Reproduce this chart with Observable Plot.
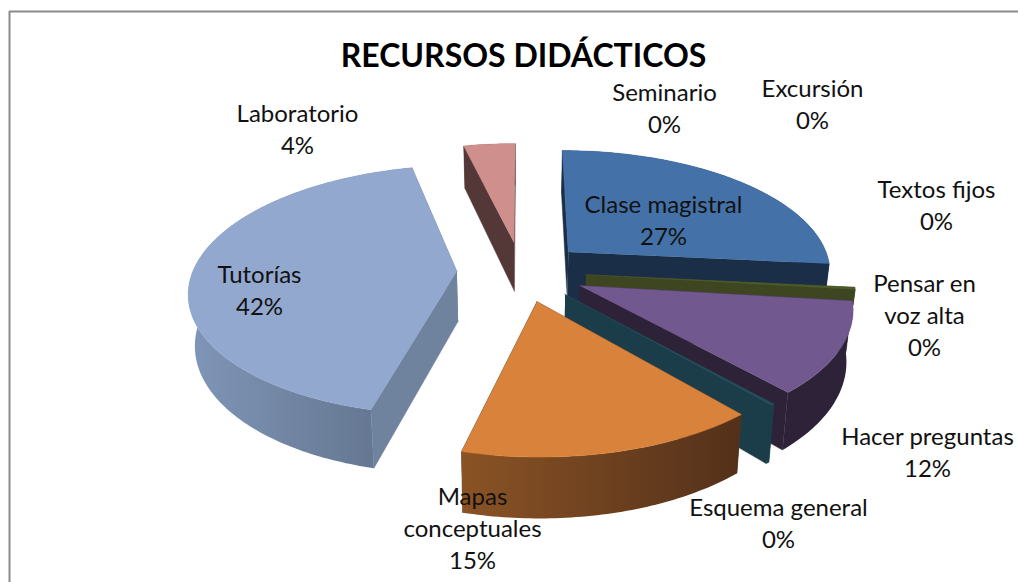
<!DOCTYPE html>
<html><head><meta charset="utf-8">
<style>html,body{margin:0;padding:0;background:#fff}svg{display:block}</style>
<script src="https://cdn.jsdelivr.net/npm/d3@7"></script>
<script src="https://cdn.jsdelivr.net/npm/@observablehq/plot@0.6"></script>
</head><body><div id="chart"></div>
<script>
const categories = ["Clase magistral","Seminario","Excursión","Textos fijos","Pensar en\nvoz alta","Hacer preguntas","Esquema general","Mapas\nconceptuales","Tutorías","Laboratorio"];
const values = [26.6,0,0,0,0.3,11.6,0.2,15.2,42.4,3.7];
const percentLabels = ["27%","0%","0%","0%","0%","12%","0%","15%","42%","4%"];
const topColors = ["#4472a8","#4472a8","#4472a8","#4472a8","#4d5a2b","#71588f","#24505c","#d9823b","#92a8cf","#cf8f8d"];
const radialColors = ["#1b2e47","#1b2e47","#1b2e47","#1b2e47","#3d4621","#2e2238","#1b3d49","#553216","#6f829e","#543838"];
const outerFrom = ["#1b2e47","#1b2e47","#1b2e47","#1b2e47","#3d4621","#2e2238","#1b3d49","#8a5325","#8096b8","#543838"];
const outerTo = ["#1b2e47","#1b2e47","#1b2e47","#1b2e47","#3d4621","#2e2238","#1b3d49","#53301a","#5f7089","#543838"];
const wallShare = [1,1,1,1,0.3,1,1,1,1,1];
// label centres, in picture pixels
const labelX = [663,664,812,936,924,927,778,472,259,297];
const labelY = [218,106,102,203,313,450,521,526,288,127];

const W = 1018, H = 582;
const cx = 521, cy = 271, B = 264, A = 122, p = 0.15, depth = 50, explode = 0.245, squeeze = 0.98;
function project(X, Y, bottom, share = 1) {
  const k = 1 + p * Y;
  let x = cx + B * X / k, y = cy - A * Y / k;
  if (bottom) { x = cx + (x - cx) * (1 - (1 - squeeze) * share); y += share * depth / k; }
  return {x, y};
}
const pie = d3.pie().sort(null).value(d => d)(values);
const slices = pie.map((s, i) => {
  const mid = (s.startAngle + s.endAngle) / 2;
  const ox = explode * Math.sin(mid), oy = explode * Math.cos(mid);
  const n = Math.max(1, Math.ceil((s.endAngle - s.startAngle) * 60));
  const rim = d3.range(n + 1).map(j => {
    const a = s.startAngle + (s.endAngle - s.startAngle) * j / n;
    return [ox + Math.sin(a), oy + Math.cos(a)];
  });
  return {i, mid, value: s.value, ox, oy, rim};
}).filter(s => s.value > 0).sort((a, b) => Math.cos(b.mid) - Math.cos(a.mid));

const topFace = (rim, s) => [[s.ox, s.oy], ...rim].map(([X, Y]) => project(X, Y, false));
const wall = (pts, share) => [...pts.map(([X, Y]) => project(X, Y, false)), ...pts.slice().reverse().map(([X, Y]) => project(X, Y, true, share))];
const poly = (pts, fill) => Plot.line(pts, {x: "x", y: "y", fill, stroke: fill.startsWith("url") ? "none" : fill, strokeWidth: 0.5});
const sliceMarks = slices.flatMap(s => {
  const apex = [s.ox, s.oy];
  const first = s.rim[0], last = s.rim[s.rim.length - 1];
  const meanY = pts => d3.mean(pts, d => d[1]);
  const walls = [
    {pts: [apex, first], fill: radialColors[s.i]},
    {pts: [apex, last], fill: radialColors[s.i]},
    {pts: s.rim, fill: `url(#outer${s.i})`}
  ].sort((a, b) => meanY(b.pts) - meanY(a.pts));
  return [...walls.map(w => poly(wall(w.pts, wallShare[s.i]), w.fill)), poly(topFace(s.rim, s), topColors[s.i])];
});

const defs = () => {
  const d = d3.create("svg:defs");
  values.forEach((_, i) => {
    const g = d.append("linearGradient").attr("id", `outer${i}`);
    g.append("stop").attr("offset", "0%").attr("stop-color", outerFrom[i]);
    g.append("stop").attr("offset", "100%").attr("stop-color", outerTo[i]);
  });
  return d.node();
};
const labels = categories.map((c, i) => ({text: `${c}\n${percentLabels[i]}`, x: labelX[i], y: labelY[i]}));

document.getElementById("chart").append(Plot.plot({
  width: W, height: H, margin: 0,
  x: {domain: [0, W], range: [0, W], axis: null},
  y: {domain: [0, H], range: [0, H], axis: null},
  style: {background: "#fff"},
  marks: [
    defs,
    Plot.ruleY([11], {x1: 9, x2: W, stroke: "#8c8c8c", strokeWidth: 2}),
    Plot.ruleX([9], {y1: 11, y2: H, stroke: "#8c8c8c", strokeWidth: 2}),
    ...sliceMarks,
    Plot.text(["RECURSOS DIDÁCTICOS"], {x: () => 523, y: () => 56, fontFamily: "Lato", fontWeight: 700, fontSize: 32, fill: "#000"}),
    Plot.text(labels, {x: "x", y: "y", text: "text", fontFamily: "Lato", fontSize: 24, lineHeight: 1.33, fill: "#111"})
  ]
}));
</script></body></html>
